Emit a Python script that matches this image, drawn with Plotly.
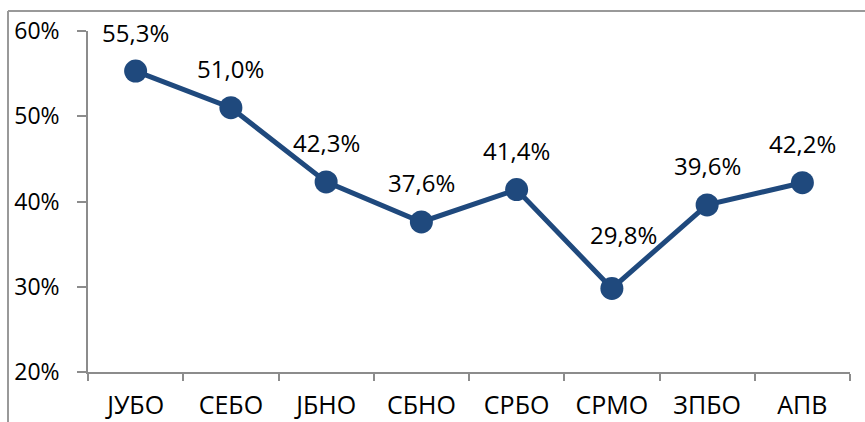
import plotly.graph_objects as go

categories = ["ЈУБО", "СЕБО", "ЈБНО", "СБНО", "СРБО", "СРМО", "ЗПБО", "АПВ"]
values = [55.3, 51.0, 42.3, 37.6, 41.4, 29.8, 39.6, 42.2]
y_ticks = [20, 30, 40, 50, 60]

FONT = "Open Sans"
LINE_COLOR = "#1F497D"
AXIS_COLOR = "#8C8C8C"
BORDER_COLOR = "#999999"

fig = go.Figure()
fig.add_trace(go.Scatter(
    x=categories, y=values, mode="lines+markers",
    line=dict(color=LINE_COLOR, width=5),
    marker=dict(color=LINE_COLOR, size=23),
    hoverinfo="skip", showlegend=False, cliponaxis=False,
))

for c, v in zip(categories, values):
    lab = f"{v:.1f}".replace(".", ",") + "%"
    xs, ys = 0, 39
    if c == "СРМО":
        xs, ys = 12, 54
    fig.add_annotation(x=c, y=v, text=lab, showarrow=False,
                       xshift=xs, yshift=ys,
                       font=dict(family=FONT, size=24, color="#000000"))

# outer chart-area border (top and left edges visible in the reference)
bx0 = (8 - 88) / 762
by1 = (372 - 11) / 341
fig.add_shape(type="line", xref="paper", yref="paper",
              x0=bx0, x1=1.1, y0=by1, y1=by1, layer="above",
              line=dict(color=BORDER_COLOR, width=2))
fig.add_shape(type="line", xref="paper", yref="paper",
              x0=bx0, x1=bx0, y0=-0.3, y1=by1, layer="above",
              line=dict(color=BORDER_COLOR, width=2))

fig.update_layout(
    width=865, height=422,
    margin=dict(l=88, r=15, t=31, b=50),
    paper_bgcolor="white", plot_bgcolor="white",
    font=dict(family=FONT, size=23, color="#000000"),
    xaxis=dict(
        type="category", range=[-0.5, len(categories) - 0.5],
        showgrid=False, zeroline=False, automargin=False,
        showline=True, linecolor=AXIS_COLOR, linewidth=1.5,
        ticks="outside", tickson="boundaries", ticklen=7,
        tickcolor=AXIS_COLOR, tickwidth=1.5,
        ticklabelstandoff=10,
        tickfont=dict(family=FONT, size=25),
    ),
    yaxis=dict(
        range=[20, 60], tickvals=y_ticks, automargin=False,
        ticktext=[f"{t}%" for t in y_ticks],
        showgrid=False, zeroline=False,
        showline=True, linecolor=AXIS_COLOR, linewidth=1.5,
        ticks="outside", ticklen=9, tickcolor=AXIS_COLOR, tickwidth=1.5,
        ticklabelstandoff=13,
        tickfont=dict(family=FONT, size=23),
    ),
)

fig.write_html("out.html", config={"displayModeBar": False, "responsive": False},
               post_script="document.body.style.margin='0';")
